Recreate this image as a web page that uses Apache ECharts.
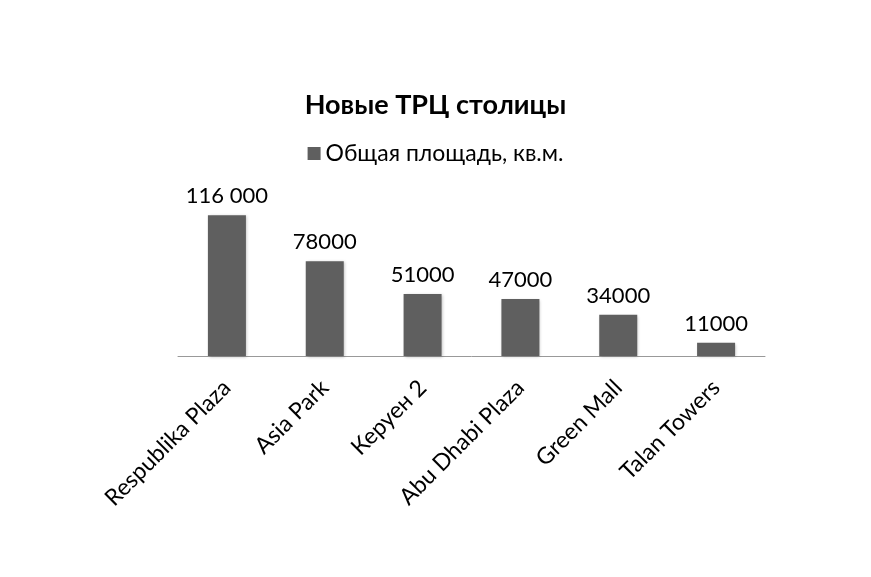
<!DOCTYPE html>
<html>
<head>
<meta charset="utf-8">
<script src="https://cdn.jsdelivr.net/npm/echarts@6/dist/echarts.min.js"></script>
<style>
  html, body { margin: 0; padding: 0; background: #fff; }
  #main { width: 871px; height: 577px; }
</style>
</head>
<body>
<div id="main"></div>
<script>
// данные
var categories = ['Respublika Plaza', 'Asia Park', 'Керуен 2', 'Abu Dhabi Plaza', 'Green Mall', 'Talan Towers'];
var areaValues = [116000, 78000, 51000, 47000, 34000, 11000];
var valueLabels = ['116 000', '78000', '51000', '47000', '34000', '11000'];

var chart = echarts.init(document.getElementById('main'));
var font = 'Lato, "Open Sans", sans-serif';

var option = {
  backgroundColor: '#fff',
  title: {
    text: 'Новые ТРЦ столицы',
    left: 'center',
    top: 87,
    textStyle: {
      fontFamily: font,
      fontSize: 27,
      fontWeight: 'bold',
      color: '#000'
    }
  },
  legend: {
    top: 137,
    left: 'center',
    itemWidth: 13,
    itemHeight: 13,
    itemGap: 8,
    icon: 'rect',
    textStyle: {
      fontFamily: font,
      fontSize: 23,
      color: '#000'
    }
  },
  grid: {
    left: 178,
    right: 106,
    top: 186,
    bottom: 221,
    containLabel: false
  },
  xAxis: {
    type: 'category',
    data: categories,
    axisLine: { lineStyle: { color: '#999', width: 1 } },
    axisTick: { show: false },
    axisLabel: {
      rotate: 45,
      interval: 0,
      margin: 28,
      fontFamily: font,
      fontSize: 23,
      color: '#000'
    }
  },
  yAxis: {
    type: 'value',
    min: 0,
    max: 140000,
    show: false,
    splitLine: { show: false }
  },
  series: [{
    name: 'Общая площадь, кв.м.',
    type: 'bar',
    data: areaValues,
    barWidth: 38,
    itemStyle: {
      color: '#5f5f5f',
      shadowColor: 'rgba(0,0,0,0.25)',
      shadowBlur: 3,
      shadowOffsetX: 1,
      shadowOffsetY: 1
    },
    label: {
      show: true,
      position: 'top',
      distance: 8,
      fontFamily: font,
      fontSize: 22,
      color: '#000',
      formatter: function (p) { return valueLabels[p.dataIndex]; }
    }
  }]
};

chart.setOption(option);
</script>
</body>
</html>
